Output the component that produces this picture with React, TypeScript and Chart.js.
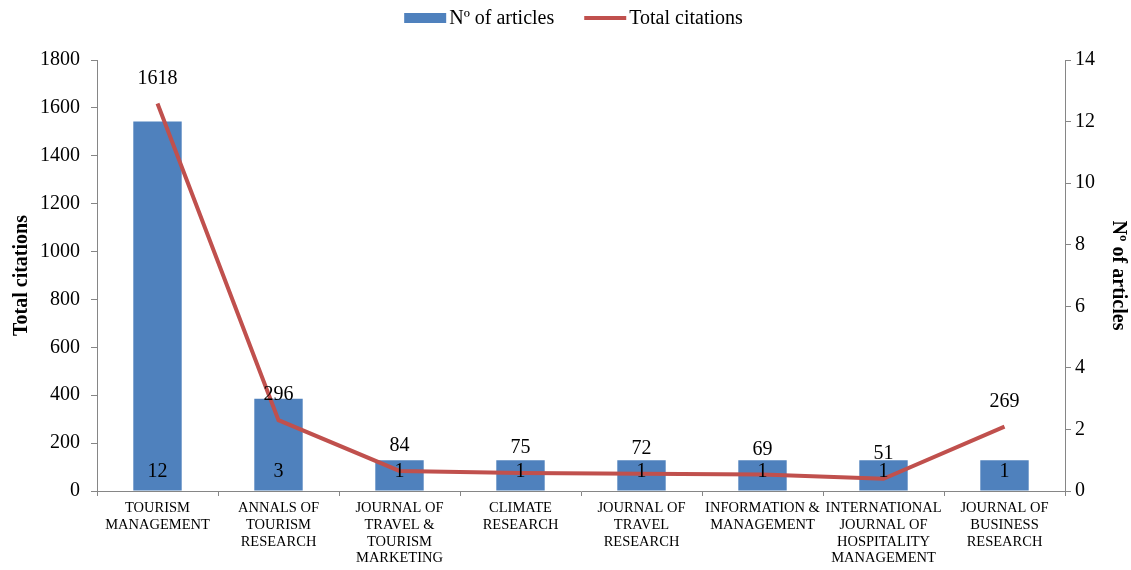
import { useEffect, useRef } from 'react';
import { Chart, registerables } from 'chart.js';

Chart.register(...registerables);

const FONT = "'Liberation Serif', 'Times New Roman', serif";
const BAR_COLOR = '#4F81BD';
const LINE_COLOR = '#C0504D';
const AXIS_COLOR = '#868686';

const categories: string[][] = [
  ['TOURISM', 'MANAGEMENT'],
  ['ANNALS OF', 'TOURISM', 'RESEARCH'],
  ['JOURNAL OF', 'TRAVEL &', 'TOURISM', 'MARKETING'],
  ['CLIMATE', 'RESEARCH'],
  ['JOURNAL OF', 'TRAVEL', 'RESEARCH'],
  ['INFORMATION &', 'MANAGEMENT'],
  ['INTERNATIONAL', 'JOURNAL OF', 'HOSPITALITY', 'MANAGEMENT'],
  ['JOURNAL OF', 'BUSINESS', 'RESEARCH'],
];
const articles = [12, 3, 1, 1, 1, 1, 1, 1];
const citations = [1618, 296, 84, 75, 72, 69, 51, 269];

const citationsAxis = { min: 0, max: 1800, step: 200 };
const articlesAxis = { min: 0, max: 14, step: 2 };

const legendItems = [
  { text: 'Nº of articles', kind: 'rect', color: BAR_COLOR },
  { text: 'Total citations', kind: 'line', color: LINE_COLOR },
];

const labelsPlugin = {
  id: 'valueLabels',
  afterDatasetsDraw(chart: any) {
    const ctx = chart.ctx;
    ctx.save();
    ctx.font = `20px ${FONT}`;
    ctx.fillStyle = '#000';
    ctx.textAlign = 'center';
    ctx.textBaseline = 'middle';
    const lineMeta = chart.getDatasetMeta(1);
    lineMeta.data.forEach((el: any, i: number) => {
      ctx.fillText(String(citations[i]), el.x, el.y - 25);
    });
    const barMeta = chart.getDatasetMeta(0);
    barMeta.data.forEach((el: any, i: number) => {
      ctx.fillText(String(articles[i]), el.x, el.base - 19);
    });
    ctx.restore();
  },
};

const legendPlugin = {
  id: 'customLegend',
  afterDraw(chart: any) {
    const ctx = chart.ctx;
    ctx.save();
    ctx.font = `20px ${FONT}`;
    ctx.textBaseline = 'middle';
    ctx.textAlign = 'left';
    const boxW = 42;
    const gap = 3;
    const between = 30;
    const widths = legendItems.map((it) => ctx.measureText(it.text).width);
    const total = widths.reduce((a, w) => a + boxW + gap + w, 0) + between * (legendItems.length - 1);
    let x = chart.width / 2 + 8 - total / 2;
    const y = 18;
    legendItems.forEach((it, i) => {
      if (it.kind === 'rect') {
        ctx.fillStyle = it.color;
        ctx.fillRect(x, y - 5, boxW, 10);
      } else {
        ctx.strokeStyle = it.color;
        ctx.lineWidth = 4;
        ctx.beginPath();
        ctx.moveTo(x, y);
        ctx.lineTo(x + boxW, y);
        ctx.stroke();
      }
      ctx.fillStyle = '#000';
      ctx.fillText(it.text, x + boxW + gap, y + 1);
      x += boxW + gap + widths[i] + between;
    });
    ctx.restore();
  },
};

const plainTick = (value: any) => String(value);

export default function App() {
  const canvasRef = useRef<HTMLCanvasElement | null>(null);

  useEffect(() => {
    document.body.style.margin = '0';
    const canvas = canvasRef.current;
    if (!canvas) return;
    const chart = new Chart(canvas, {
      type: 'bar',
      data: {
        labels: categories,
        datasets: [
          {
            type: 'bar',
            label: 'Nº of articles',
            data: articles,
            backgroundColor: BAR_COLOR,
            yAxisID: 'y1',
            barPercentage: 0.4,
            categoryPercentage: 1,
            order: 2,
          },
          {
            type: 'line',
            label: 'Total citations',
            data: citations,
            borderColor: LINE_COLOR,
            backgroundColor: LINE_COLOR,
            borderWidth: 4,
            pointRadius: 0,
            tension: 0,
            yAxisID: 'y',
            order: 1,
          },
        ],
      },
      options: {
        animation: false,
        responsive: false,
        maintainAspectRatio: false,
        layout: { padding: { top: 60, bottom: 0, left: 0, right: 0 } },
        plugins: {
          legend: { display: false },
          tooltip: { enabled: false },
        },
        scales: {
          x: {
            offset: true,
            grid: {
              display: true,
              drawOnChartArea: false,
              drawTicks: true,
              tickLength: 5,
              color: AXIS_COLOR,
              offset: true,
            },
            border: { color: AXIS_COLOR, width: 1 },
            ticks: {
              autoSkip: false,
              maxRotation: 0,
              minRotation: 0,
              padding: 4,
              color: '#000',
              font: { family: FONT, size: 14.5, lineHeight: 1.15 },
            },
            afterFit(scale: any) {
              scale.height = 79;
            },
          },
          y: {
            position: 'left',
            min: citationsAxis.min,
            max: citationsAxis.max,
            grid: {
              display: true,
              drawOnChartArea: false,
              drawTicks: true,
              tickLength: 6,
              color: AXIS_COLOR,
            },
            border: { color: AXIS_COLOR, width: 1 },
            ticks: {
              stepSize: citationsAxis.step,
              padding: 11,
              color: '#000',
              font: { family: FONT, size: 20 },
              callback: plainTick,
            },
            title: {
              display: true,
              text: 'Total citations',
              color: '#000',
              font: { family: FONT, size: 20, weight: 'bold' },
              padding: { top: 10, bottom: 8 },
            },
            afterFit(scale: any) {
              scale.width = 97;
            },
          },
          y1: {
            position: 'right',
            min: articlesAxis.min,
            max: articlesAxis.max,
            grid: {
              display: true,
              drawOnChartArea: false,
              drawTicks: true,
              tickLength: 6,
              color: AXIS_COLOR,
            },
            border: { color: AXIS_COLOR, width: 1 },
            ticks: {
              stepSize: articlesAxis.step,
              padding: 4,
              color: '#000',
              font: { family: FONT, size: 20 },
              callback: plainTick,
            },
            title: {
              display: true,
              text: 'Nº of articles',
              color: '#000',
              font: { family: FONT, size: 20, weight: 'bold' },
              padding: { top: 1, bottom: 1 },
            },
            afterFit(scale: any) {
              scale.width = 66;
            },
          },
        },
      },
      plugins: [labelsPlugin, legendPlugin],
    } as any);
    return () => chart.destroy();
  }, []);

  return (
    <div style={{ width: 1131, height: 570, position: 'relative' }}>
      <canvas ref={canvasRef} width={1131} height={570} style={{ width: 1131, height: 570, display: 'block' }} />
    </div>
  );
}
